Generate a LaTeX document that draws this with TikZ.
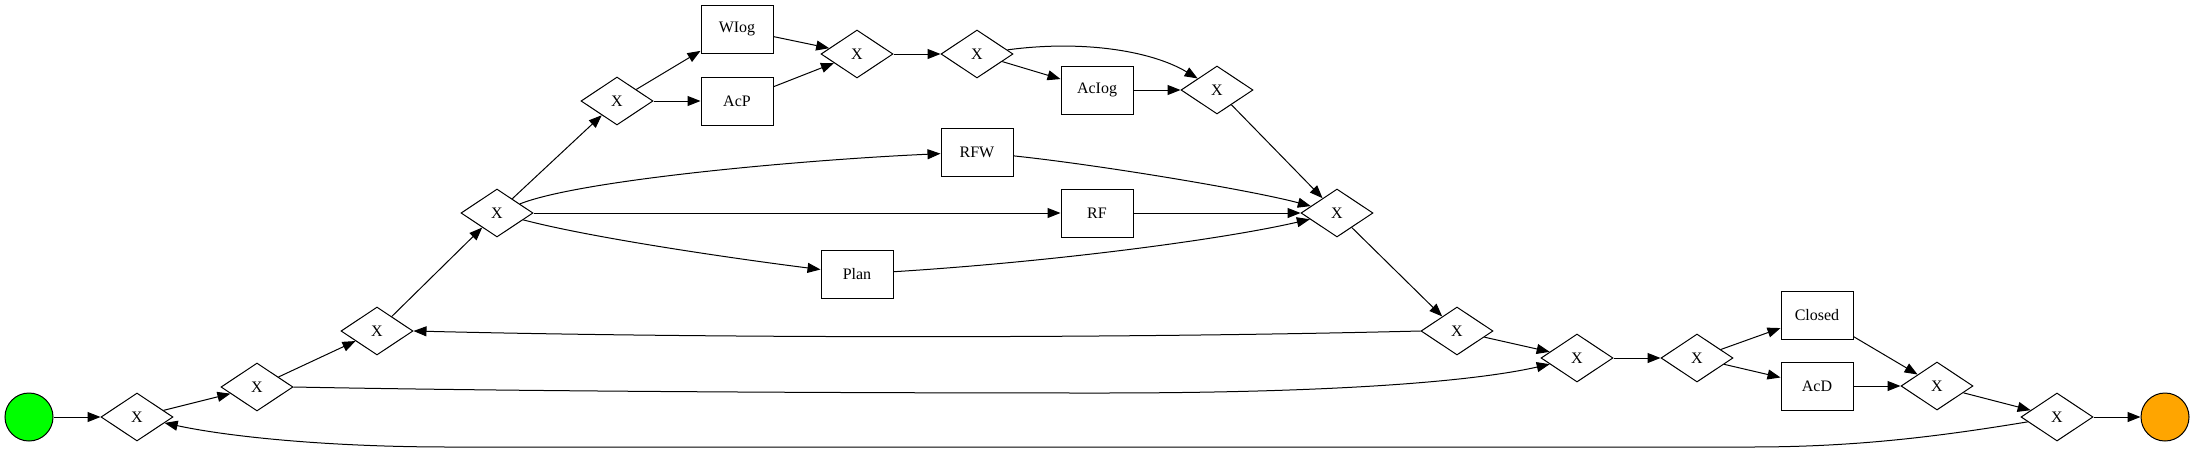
\documentclass[tikz,border=0pt]{standalone}
\usepackage{fontspec}
\setmainfont{Liberation Serif}
\usetikzlibrary{shapes.geometric,arrows.meta}
\begin{document}
\begin{tikzpicture}[x=1pt,y=-1pt,line width=1pt,
  lbl/.style={font=\fontsize{16}{18}\selectfont},
  gate/.style={draw,diamond,aspect=1.5,minimum width=72pt,minimum height=48pt,inner sep=0pt,lbl},
  task/.style={draw,rectangle,minimum width=72pt,minimum height=48pt,inner sep=0pt,lbl},
  ev/.style={draw,circle,minimum size=48pt,inner sep=0pt},
  flow/.style={-{Triangle[length=13pt,width=10pt]}}]
\useasboundingbox (0,0) rectangle (2195,453);
\definecolor{startgreen}{HTML}{00FF00}
\definecolor{endorange}{HTML}{FFA500}
% events
\node[ev,fill=startgreen] (start) at (29,417) {};
\node[ev,fill=endorange] (end) at (2165,417) {};
% gateways
\node[gate] (g1) at (137,417) {X};
\node[gate] (g2) at (257,387) {X};
\node[gate] (g3) at (377,331) {X};
\node[gate] (g4) at (497,213) {X};
\node[gate] (g5) at (617,101) {X};
\node[gate] (g6) at (857,54) {X};
\node[gate] (g7) at (977,54) {X};
\node[gate] (g8) at (1217,90) {X};
\node[gate] (g9) at (1337,213) {X};
\node[gate] (g10) at (1457,331) {X};
\node[gate] (g11) at (1577,358) {X};
\node[gate] (g12) at (1697,358) {X};
\node[gate] (g13) at (1937,386) {X};
\node[gate] (g14) at (2057,417) {X};
% tasks
\node[task] (wlog) at (737,29) {WIog};
\node[task] (acp) at (737,101) {AcP};
\node[task] (aclog) at (1097,90) {AcIog};
\node[task] (rfw) at (977,152) {RFW};
\node[task] (rf) at (1097,213) {RF};
\node[task] (plan) at (857,274) {Plan};
\node[task] (closed) at (1817,315) {Closed};
\node[task] (acd) at (1817,386) {AcD};
% flows
\draw[flow] (start) -- (g1);
\draw[flow] (g1) -- (g2);
\draw[flow] (g2) -- (g3);
\draw[flow] (g3) -- (g4);
\draw[flow] (g4) -- (g5);
\draw[flow] (g5) -- (wlog);
\draw[flow] (g5) -- (acp);
\draw[flow] (wlog) -- (g6);
\draw[flow] (acp) -- (g6);
\draw[flow] (g6) -- (g7);
\draw[flow] (g7) -- (aclog);
\draw[flow] (g7) .. controls (1080,40) and (1150,50) .. (g8);
\draw[flow] (aclog) -- (g8);
\draw[flow] (g8) -- (g9);
\draw[flow] (g4) .. controls (580,180) and (800,160) .. (rfw);
\draw[flow] (g4) -- (rf);
\draw[flow] (g4) .. controls (600,240) and (760,262) .. (plan);
\draw[flow] (rfw) .. controls (1100,165) and (1250,190) .. (g9);
\draw[flow] (rf) -- (g9);
\draw[flow] (plan) .. controls (1050,262) and (1220,240) .. (g9);
\draw[flow] (g9) -- (g10);
\draw[flow] (g10.west) .. controls (1100,339) and (700,338) .. (g3.east);
\draw[flow] (g10) -- (g11);
\draw[flow] (g2.east) .. controls (500,391) and (800,393) .. (1100,393)
   .. controls (1350,393) and (1480,380) .. (g11);
\draw[flow] (g11) -- (g12);
\draw[flow] (g12) -- (closed);
\draw[flow] (g12) -- (acd);
\draw[flow] (closed) -- (g13);
\draw[flow] (acd) -- (g13);
\draw[flow] (g13) -- (g14);
\draw[flow] (g14) -- (end);
\draw[flow] (g14) .. controls (1930,438) and (1850,447) .. (1750,447)
   -- (450,447) .. controls (330,447) and (230,437) .. (g1);
\end{tikzpicture}
\end{document}
